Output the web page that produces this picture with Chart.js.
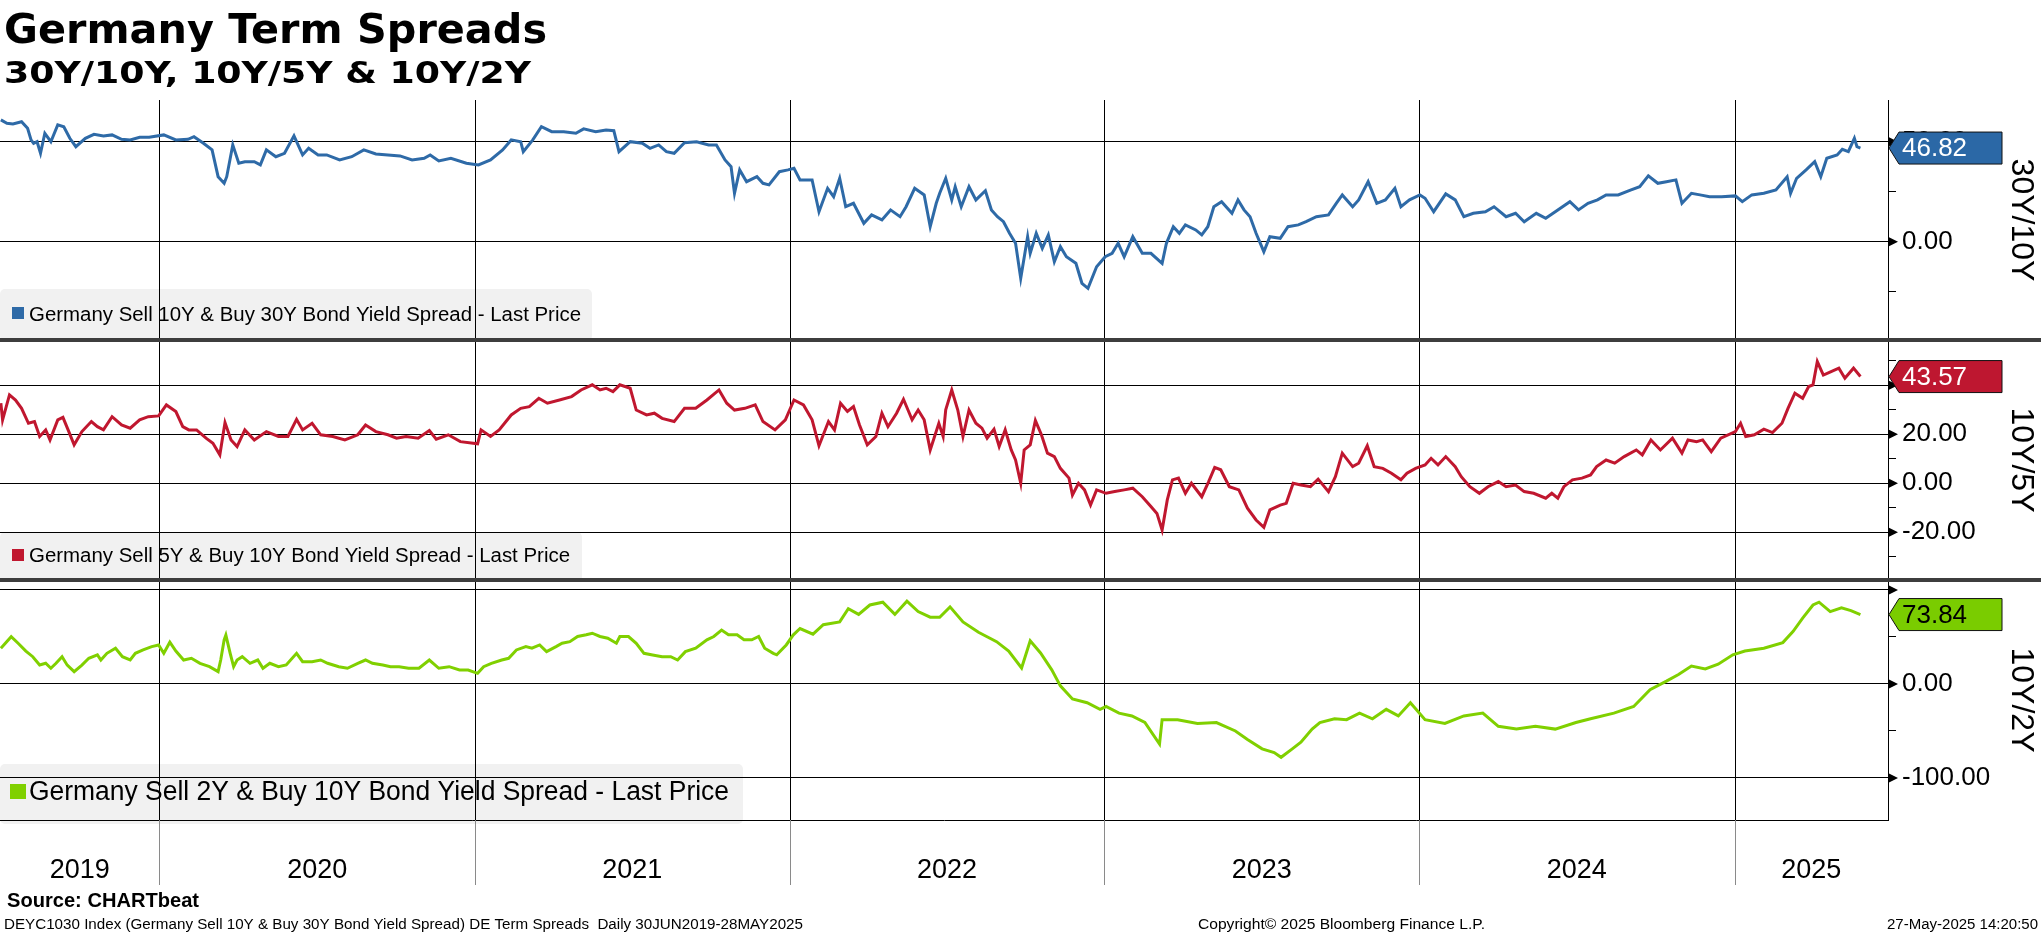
<!DOCTYPE html>
<html>
<head>
<meta charset="utf-8">
<title>Germany Term Spreads</title>
<script src="https://cdn.jsdelivr.net/npm/chart.js@4.4.1/dist/chart.umd.min.js"></script>
<style>
  html, body { margin: 0; padding: 0; background: #fff; }
  #chart { display: block; }
</style>
</head>
<body>
<canvas id="chart" width="2041" height="936"></canvas>
<script>
// --- data (bp) ---
const axisStart = '2019-06-30';
const axisEnd = '2025-06-28';
const yearLabels = ['2019', '2020', '2021', '2022', '2023', '2024', '2025'];
const panelTitles = ['30Y/10Y', '10Y/5Y', '10Y/2Y'];
const seriesNames = [
  'Germany Sell 10Y & Buy 30Y Bond Yield Spread - Last Price',
  'Germany Sell 5Y & Buy 10Y Bond Yield Spread - Last Price',
  'Germany Sell 2Y & Buy 10Y Bond Yield Spread - Last Price'
];
const seriesColors = ['#2e6aa7', '#c0172f', '#80d000'];
const badgeColors = ['#2b68a6', '#be1730', '#7acc00'];
const badgeText = ['#ffffff', '#ffffff', '#000000'];

// ticks per panel: major (grid line + arrow), minor (short tick), labelled
const p1Major = [50, 0], p1Minor = [25, -25], p1Labelled = [50, 0];
const p2Major = [40, 20, 0, -20], p2Minor = [50, 30, 10, -10, -30], p2Labelled = [40, 20, 0, -20];
const p3Major = [100, 0, -100], p3Minor = [50, -50], p3Labelled = [0, -100];

const spread30y10y = [
  ['2019-07-01', 60.9], ['2019-07-08', 59.2], ['2019-07-15', 58.9], ['2019-07-25', 60.0], ['2019-08-01', 56.7],
  ['2019-08-05', 50.9], ['2019-08-08', 49.2], ['2019-08-12', 50.0], ['2019-08-16', 44.2], ['2019-08-21', 54.2],
  ['2019-08-28', 50.0], ['2019-09-05', 58.4], ['2019-09-12', 57.5], ['2019-09-19', 51.7], ['2019-09-26', 47.5],
  ['2019-10-07', 51.7], ['2019-10-17', 53.7], ['2019-10-28', 52.9], ['2019-11-07', 53.4], ['2019-11-18', 51.2],
  ['2019-11-28', 50.9], ['2019-12-09', 52.2], ['2019-12-20', 52.2], ['2020-01-06', 53.4], ['2020-01-20', 50.9],
  ['2020-02-03', 51.2], ['2020-02-10', 52.5], ['2020-02-21', 49.2], ['2020-03-02', 45.9], ['2020-03-09', 32.5],
  ['2020-03-16', 29.2], ['2020-03-19', 32.5], ['2020-03-26', 48.4], ['2020-04-02', 39.2], ['2020-04-09', 40.0],
  ['2020-04-20', 40.0], ['2020-04-27', 38.4], ['2020-05-04', 45.9], ['2020-05-15', 42.5], ['2020-05-25', 44.2],
  ['2020-06-05', 52.9], ['2020-06-15', 43.4], ['2020-06-22', 46.7], ['2020-07-03', 43.4], ['2020-07-13', 43.4],
  ['2020-07-28', 40.9], ['2020-08-11', 42.5], ['2020-08-25', 45.9], ['2020-09-08', 43.9], ['2020-09-22', 43.4],
  ['2020-10-06', 42.9], ['2020-10-20', 40.9], ['2020-11-03', 41.7], ['2020-11-10', 43.4], ['2020-11-20', 40.4],
  ['2020-12-04', 41.7], ['2020-12-22', 39.2], ['2021-01-05', 38.4], ['2021-01-19', 40.9], ['2021-02-02', 45.9],
  ['2021-02-12', 50.9], ['2021-02-23', 50.0], ['2021-02-26', 45.0], ['2021-03-09', 50.9], ['2021-03-19', 57.5],
  ['2021-03-31', 55.0], ['2021-04-14', 55.0], ['2021-04-28', 54.2], ['2021-05-07', 56.4], ['2021-05-21', 55.0],
  ['2021-06-02', 55.9], ['2021-06-11', 55.5], ['2021-06-17', 45.0], ['2021-06-30', 50.0], ['2021-07-14', 49.2],
  ['2021-07-23', 46.7], ['2021-08-02', 48.4], ['2021-08-11', 45.0], ['2021-08-20', 44.2], ['2021-09-01', 49.5],
  ['2021-09-15', 50.0], ['2021-09-29', 48.4], ['2021-10-08', 48.4], ['2021-10-18', 40.9], ['2021-10-25', 37.5],
  ['2021-10-29', 24.2], ['2021-11-04', 35.9], ['2021-11-12', 30.0], ['2021-11-24', 32.5], ['2021-12-01', 29.2],
  ['2021-12-08', 28.4], ['2021-12-20', 35.0], ['2021-12-30', 35.9], ['2022-01-06', 36.7], ['2022-01-13', 30.9],
  ['2022-01-27', 30.9], ['2022-02-04', 15.0], ['2022-02-14', 26.7], ['2022-02-21', 22.5], ['2022-02-28', 31.7],
  ['2022-03-07', 17.5], ['2022-03-16', 19.2], ['2022-03-28', 9.2], ['2022-04-06', 13.4], ['2022-04-18', 10.9],
  ['2022-04-28', 15.9], ['2022-05-09', 12.5], ['2022-05-16', 17.5], ['2022-05-26', 26.7], ['2022-06-06', 23.4],
  ['2022-06-13', 7.5], ['2022-06-20', 19.2], ['2022-06-24', 24.2], ['2022-07-01', 31.7], ['2022-07-08', 20.9],
  ['2022-07-12', 27.5], ['2022-07-19', 17.5], ['2022-07-28', 27.5], ['2022-08-05', 20.9], ['2022-08-16', 25.5],
  ['2022-08-23', 15.9], ['2022-08-30', 12.5], ['2022-09-06', 10.0], ['2022-09-13', 4.2], ['2022-09-20', -0.8],
  ['2022-09-26', -18.3], ['2022-10-04', 2.5], ['2022-10-07', -5.8], ['2022-10-14', 4.2], ['2022-10-21', -3.3],
  ['2022-10-28', 3.4], ['2022-11-04', -10.0], ['2022-11-11', -2.5], ['2022-11-18', -7.5], ['2022-11-29', -10.8],
  ['2022-12-06', -20.8], ['2022-12-13', -23.3], ['2022-12-23', -12.5], ['2023-01-02', -7.5], ['2023-01-10', -5.8],
  ['2023-01-17', -0.8], ['2023-01-24', -7.5], ['2023-02-03', 2.5], ['2023-02-14', -5.8], ['2023-02-24', -5.8],
  ['2023-03-09', -10.8], ['2023-03-14', -0.8], ['2023-03-22', 7.5], ['2023-03-29', 4.2], ['2023-04-05', 8.4],
  ['2023-04-17', 5.9], ['2023-04-24', 3.4], ['2023-05-01', 7.5], ['2023-05-08', 17.5], ['2023-05-17', 20.0],
  ['2023-05-29', 14.2], ['2023-06-05', 20.9], ['2023-06-12', 15.9], ['2023-06-19', 12.5], ['2023-06-26', 4.2],
  ['2023-07-05', -5.0], ['2023-07-12', 2.5], ['2023-07-24', 1.7], ['2023-08-02', 7.5], ['2023-08-14', 8.4],
  ['2023-08-23', 10.0], ['2023-09-04', 12.5], ['2023-09-18', 13.4], ['2023-09-27', 19.2], ['2023-10-04', 23.4],
  ['2023-10-16', 17.5], ['2023-10-23', 20.9], ['2023-11-03', 30.0], ['2023-11-13', 19.2], ['2023-11-23', 20.9],
  ['2023-12-04', 26.7], ['2023-12-11', 17.5], ['2023-12-21', 20.9], ['2024-01-02', 23.4], ['2024-01-08', 21.7],
  ['2024-01-18', 15.0], ['2024-02-01', 23.9], ['2024-02-12', 20.9], ['2024-02-22', 12.5], ['2024-03-04', 14.2],
  ['2024-03-18', 15.0], ['2024-03-28', 17.5], ['2024-04-11', 12.5], ['2024-04-22', 14.2], ['2024-05-02', 10.0],
  ['2024-05-16', 14.2], ['2024-05-27', 11.7], ['2024-06-10', 15.9], ['2024-06-24', 20.0], ['2024-07-04', 15.9],
  ['2024-07-15', 19.2], ['2024-07-26', 20.9], ['2024-08-05', 23.4], ['2024-08-19', 23.4], ['2024-09-03', 25.9],
  ['2024-09-13', 27.5], ['2024-09-23', 32.9], ['2024-10-04', 29.2], ['2024-10-14', 30.0], ['2024-10-25', 30.9],
  ['2024-11-01', 19.2], ['2024-11-12', 24.2], ['2024-11-22', 23.4], ['2024-12-03', 22.5], ['2024-12-17', 22.5],
  ['2025-01-02', 22.9], ['2025-01-10', 20.0], ['2025-01-21', 23.4], ['2025-02-04', 24.2], ['2025-02-18', 25.9],
  ['2025-03-03', 32.5], ['2025-03-07', 24.2], ['2025-03-14', 31.7], ['2025-03-25', 35.9], ['2025-04-04', 40.0],
  ['2025-04-11', 32.5], ['2025-04-18', 41.7], ['2025-04-30', 43.4], ['2025-05-06', 46.2], ['2025-05-13', 45.0],
  ['2025-05-20', 51.7], ['2025-05-23', 47.5], ['2025-05-27', 46.82]
];

const spread10y5y = [
  ['2019-07-01', 32.7], ['2019-07-03', 25.9], ['2019-07-11', 36.1], ['2019-07-18', 34.0], ['2019-07-25', 30.6],
  ['2019-08-02', 24.5], ['2019-08-09', 25.2], ['2019-08-15', 19.1], ['2019-08-22', 21.8], ['2019-08-27', 17.7],
  ['2019-09-05', 25.9], ['2019-09-11', 26.9], ['2019-09-17', 21.8], ['2019-09-24', 15.7], ['2019-10-03', 21.1],
  ['2019-10-14', 25.2], ['2019-10-21', 23.1], ['2019-10-28', 21.8], ['2019-11-07', 27.2], ['2019-11-18', 23.8],
  ['2019-11-28', 22.5], ['2019-12-09', 25.9], ['2019-12-19', 27.2], ['2019-12-31', 27.5], ['2020-01-09', 32.0],
  ['2020-01-20', 29.3], ['2020-01-28', 23.1], ['2020-02-04', 21.8], ['2020-02-13', 21.8], ['2020-02-24', 18.4],
  ['2020-03-03', 16.3], ['2020-03-11', 11.6], ['2020-03-17', 24.8], ['2020-03-24', 17.7], ['2020-03-31', 15.0],
  ['2020-04-09', 21.8], ['2020-04-20', 17.7], ['2020-05-04', 21.1], ['2020-05-18', 19.1], ['2020-05-29', 19.1],
  ['2020-06-08', 26.1], ['2020-06-15', 21.8], ['2020-06-26', 24.5], ['2020-07-06', 19.8], ['2020-07-20', 19.1],
  ['2020-08-03', 17.7], ['2020-08-18', 19.8], ['2020-08-27', 23.8], ['2020-09-08', 21.1], ['2020-09-22', 19.8],
  ['2020-10-02', 18.4], ['2020-10-13', 19.1], ['2020-10-27', 18.4], ['2020-11-09', 21.5], ['2020-11-17', 18.0],
  ['2020-12-01', 19.8], ['2020-12-15', 17.0], ['2021-01-04', 16.1], ['2021-01-08', 21.8], ['2021-01-19', 19.1],
  ['2021-01-29', 21.8], ['2021-02-12', 27.9], ['2021-02-23', 30.6], ['2021-03-05', 31.3], ['2021-03-16', 34.7],
  ['2021-03-26', 32.7], ['2021-04-09', 34.0], ['2021-04-23', 35.4], ['2021-05-04', 38.1], ['2021-05-17', 40.2],
  ['2021-05-26', 38.1], ['2021-06-02', 38.8], ['2021-06-10', 37.4], ['2021-06-18', 40.2], ['2021-06-30', 38.8],
  ['2021-07-07', 29.9], ['2021-07-19', 27.9], ['2021-07-28', 28.6], ['2021-08-06', 26.5], ['2021-08-20', 25.2],
  ['2021-09-01', 30.6], ['2021-09-14', 30.6], ['2021-09-27', 34.0], ['2021-10-11', 38.1], ['2021-10-20', 32.7],
  ['2021-10-29', 29.9], ['2021-11-10', 30.6], ['2021-11-22', 32.0], ['2021-12-01', 25.2], ['2021-12-15', 21.8],
  ['2021-12-27', 25.9], ['2022-01-06', 34.0], ['2022-01-17', 32.0], ['2022-01-27', 25.9], ['2022-02-04', 15.3],
  ['2022-02-15', 25.2], ['2022-02-22', 21.8], ['2022-03-01', 32.7], ['2022-03-09', 29.3], ['2022-03-16', 31.3],
  ['2022-03-23', 23.8], ['2022-04-01', 15.7], ['2022-04-11', 19.1], ['2022-04-18', 28.6], ['2022-04-25', 23.1],
  ['2022-05-05', 28.6], ['2022-05-13', 34.3], ['2022-05-23', 25.9], ['2022-05-30', 29.9], ['2022-06-06', 25.9],
  ['2022-06-13', 13.6], ['2022-06-23', 24.5], ['2022-06-28', 19.1], ['2022-07-01', 30.0], ['2022-07-08', 38.1],
  ['2022-07-15', 29.9], ['2022-07-21', 19.1], ['2022-07-28', 29.9], ['2022-08-05', 24.5], ['2022-08-12', 22.5],
  ['2022-08-18', 18.4], ['2022-08-26', 22.1], ['2022-09-01', 15.0], ['2022-09-08', 21.8], ['2022-09-15', 13.6],
  ['2022-09-20', 9.5], ['2022-09-26', 0.0], ['2022-09-30', 13.6], ['2022-10-07', 15.7], ['2022-10-13', 25.6],
  ['2022-10-20', 19.8], ['2022-10-27', 12.3], ['2022-11-04', 10.9], ['2022-11-11', 6.1], ['2022-11-21', 2.1],
  ['2022-11-25', -4.8], ['2022-12-02', 0.0], ['2022-12-09', -2.7], ['2022-12-16', -8.9], ['2022-12-23', -2.7],
  ['2023-01-03', -4.1], ['2023-01-13', -3.4], ['2023-01-24', -2.7], ['2023-02-03', -2.0], ['2023-02-14', -5.5],
  ['2023-02-24', -9.5], ['2023-03-03', -12.3], ['2023-03-09', -19.1], ['2023-03-15', -6.8], ['2023-03-21', 1.4],
  ['2023-03-28', 2.1], ['2023-04-05', -4.1], ['2023-04-12', 0.0], ['2023-04-24', -5.5], ['2023-05-02', 0.7],
  ['2023-05-09', 6.5], ['2023-05-16', 5.5], ['2023-05-26', -1.4], ['2023-06-06', -2.7], ['2023-06-16', -10.2],
  ['2023-06-26', -15.0], ['2023-07-05', -18.0], ['2023-07-12', -10.9], ['2023-07-24', -8.9], ['2023-07-31', -8.2],
  ['2023-08-08', 0.0], ['2023-08-17', -0.7], ['2023-08-28', -1.4], ['2023-09-06', 1.7], ['2023-09-18', -3.4],
  ['2023-09-26', 2.7], ['2023-10-04', 12.3], ['2023-10-16', 6.8], ['2023-10-23', 8.2], ['2023-11-02', 15.3],
  ['2023-11-10', 6.8], ['2023-11-20', 6.1], ['2023-11-30', 4.1], ['2023-12-11', 1.4], ['2023-12-18', 4.1],
  ['2023-12-28', 6.1], ['2024-01-08', 7.5], ['2024-01-15', 10.2], ['2024-01-23', 7.5], ['2024-02-01', 10.9],
  ['2024-02-12', 6.8], ['2024-02-19', 2.7], ['2024-02-29', -1.4], ['2024-03-11', -4.1], ['2024-03-21', -1.4],
  ['2024-04-02', 0.7], ['2024-04-11', -1.4], ['2024-04-22', -0.7], ['2024-05-02', -3.4], ['2024-05-13', -4.1],
  ['2024-05-27', -6.1], ['2024-06-03', -4.1], ['2024-06-10', -6.1], ['2024-06-17', -1.4], ['2024-06-27', 1.4],
  ['2024-07-08', 2.1], ['2024-07-18', 3.4], ['2024-07-25', 6.8], ['2024-08-05', 9.5], ['2024-08-15', 8.2],
  ['2024-08-26', 10.9], ['2024-09-09', 13.6], ['2024-09-16', 11.6], ['2024-09-26', 17.7], ['2024-10-07', 13.6],
  ['2024-10-21', 18.4], ['2024-11-01', 12.3], ['2024-11-08', 17.7], ['2024-11-18', 17.0], ['2024-11-25', 17.7],
  ['2024-12-05', 12.9], ['2024-12-16', 18.4], ['2025-01-02', 21.1], ['2025-01-08', 24.5], ['2025-01-14', 19.1],
  ['2025-01-24', 19.8], ['2025-02-04', 22.1], ['2025-02-14', 20.7], ['2025-02-25', 24.5], ['2025-03-04', 30.6],
  ['2025-03-12', 36.8], ['2025-03-21', 34.7], ['2025-03-28', 39.5], ['2025-04-02', 40.2], ['2025-04-07', 49.7],
  ['2025-04-14', 44.2], ['2025-04-23', 45.6], ['2025-05-02', 47.0], ['2025-05-09', 42.9], ['2025-05-19', 47.0],
  ['2025-05-27', 43.57]
];

const spread10y2y = [
  ['2019-07-01', 38.0], ['2019-07-13', 50.3], ['2019-07-21', 43.3], ['2019-07-30', 35.0], ['2019-08-07', 29.0],
  ['2019-08-15', 20.2], ['2019-08-22', 22.0], ['2019-08-28', 16.7], ['2019-09-03', 22.0], ['2019-09-10', 29.0],
  ['2019-09-16', 20.0], ['2019-09-24', 13.1], ['2019-10-03', 20.0], ['2019-10-11', 27.3], ['2019-10-21', 31.0],
  ['2019-10-25', 25.5], ['2019-11-01', 32.6], ['2019-11-11', 38.0], ['2019-11-19', 29.0], ['2019-11-28', 25.5],
  ['2019-12-04', 32.6], ['2019-12-13', 36.2], ['2019-12-23', 39.7], ['2019-12-31', 41.5], ['2020-01-06', 32.6],
  ['2020-01-13', 44.4], ['2020-01-20', 35.0], ['2020-01-29', 25.5], ['2020-02-07', 27.3], ['2020-02-17', 22.0],
  ['2020-02-28', 18.4], ['2020-03-09', 13.1], ['2020-03-12', 25.5], ['2020-03-16', 46.8], ['2020-03-18', 52.0],
  ['2020-03-23', 32.6], ['2020-03-27', 18.4], ['2020-03-31', 25.5], ['2020-04-06', 29.0], ['2020-04-15', 22.0],
  ['2020-04-24', 25.5], ['2020-04-30', 16.7], ['2020-05-08', 22.0], ['2020-05-18', 18.4], ['2020-05-27', 20.2],
  ['2020-06-08', 32.6], ['2020-06-15', 23.7], ['2020-06-26', 23.7], ['2020-07-06', 25.5], ['2020-07-14', 22.0],
  ['2020-07-27', 18.4], ['2020-08-06', 16.7], ['2020-08-18', 22.0], ['2020-08-27', 25.5], ['2020-09-04', 22.0],
  ['2020-09-16', 20.2], ['2020-09-25', 18.4], ['2020-10-05', 18.4], ['2020-10-16', 16.7], ['2020-10-28', 16.7],
  ['2020-11-09', 25.5], ['2020-11-20', 16.7], ['2020-12-02', 18.4], ['2020-12-14', 14.9], ['2020-12-24', 14.9],
  ['2021-01-04', 11.3], ['2021-01-11', 18.4], ['2021-01-20', 22.0], ['2021-02-01', 25.5], ['2021-02-09', 27.3],
  ['2021-02-18', 36.2], ['2021-03-01', 39.7], ['2021-03-08', 38.0], ['2021-03-17', 41.5], ['2021-03-25', 34.4],
  ['2021-04-05', 39.7], ['2021-04-12', 43.3], ['2021-04-21', 45.0], ['2021-04-30', 50.5], ['2021-05-10', 52.3],
  ['2021-05-17', 54.0], ['2021-05-26', 50.5], ['2021-06-04', 48.6], ['2021-06-14', 43.3], ['2021-06-18', 50.5],
  ['2021-06-28', 50.5], ['2021-07-07', 43.3], ['2021-07-16', 32.6], ['2021-07-26', 30.8], ['2021-08-06', 29.0],
  ['2021-08-16', 29.0], ['2021-08-24', 25.5], ['2021-09-02', 34.4], ['2021-09-14', 38.0], ['2021-09-27', 47.0],
  ['2021-10-05', 50.5], ['2021-10-14', 57.4], ['2021-10-22', 52.3], ['2021-11-01', 52.3], ['2021-11-09', 47.0],
  ['2021-11-18', 47.0], ['2021-11-26', 50.5], ['2021-12-03', 38.0], ['2021-12-13', 32.6], ['2021-12-17', 31.0],
  ['2021-12-28', 41.5], ['2022-01-05', 52.0], ['2022-01-13', 59.0], ['2022-01-28', 53.0], ['2022-02-09', 63.0],
  ['2022-02-28', 66.0], ['2022-03-10', 80.0], ['2022-03-22', 74.0], ['2022-04-04', 84.0], ['2022-04-19', 87.0],
  ['2022-05-03', 74.0], ['2022-05-17', 88.0], ['2022-05-30', 77.0], ['2022-06-13', 71.0], ['2022-06-24', 71.0],
  ['2022-07-06', 82.0], ['2022-07-21', 66.0], ['2022-08-08', 55.0], ['2022-08-29', 45.0], ['2022-09-12', 35.0],
  ['2022-09-27', 17.0], ['2022-10-07', 46.0], ['2022-10-19', 33.0], ['2022-11-01', 15.0], ['2022-11-11', -2.0],
  ['2022-11-25', -16.0], ['2022-12-12', -20.0], ['2022-12-27', -27.0], ['2023-01-03', -24.0], ['2023-01-18', -31.0],
  ['2023-02-02', -34.0], ['2023-02-17', -41.0], ['2023-03-06', -64.0], ['2023-03-09', -38.0], ['2023-03-27', -38.0],
  ['2023-04-19', -42.0], ['2023-05-11', -41.0], ['2023-06-02', -50.0], ['2023-06-16', -59.0], ['2023-07-03', -69.0],
  ['2023-07-17', -73.0], ['2023-07-25', -78.0], ['2023-08-07', -69.0], ['2023-08-17', -62.0], ['2023-08-30', -48.0],
  ['2023-09-08', -41.0], ['2023-09-25', -37.0], ['2023-10-09', -38.0], ['2023-10-24', -31.0], ['2023-11-08', -37.0],
  ['2023-11-24', -27.0], ['2023-12-08', -34.0], ['2023-12-22', -20.0], ['2024-01-08', -38.0], ['2024-01-31', -42.0],
  ['2024-02-22', -34.0], ['2024-03-15', -31.0], ['2024-04-02', -45.0], ['2024-04-23', -48.0], ['2024-05-15', -45.0],
  ['2024-06-07', -48.0], ['2024-07-01', -41.0], ['2024-07-18', -37.0], ['2024-08-14', -31.0], ['2024-09-06', -24.0],
  ['2024-09-25', -6.0], ['2024-10-14', 3.0], ['2024-10-28', 10.0], ['2024-11-12', 19.0], ['2024-11-28', 16.0],
  ['2024-12-13', 21.0], ['2024-12-30', 31.0], ['2025-01-13', 35.0], ['2025-02-04', 38.0], ['2025-02-26', 44.0],
  ['2025-03-10', 56.0], ['2025-03-21', 70.0], ['2025-04-02', 84.0], ['2025-04-09', 87.0], ['2025-04-22', 77.0],
  ['2025-05-05', 81.0], ['2025-05-16', 78.0], ['2025-05-27', 73.84]
];

const seriesRows = [spread30y10y, spread10y5y, spread10y2y];
const toPoints = rows => rows.map(([d, v]) => ({ x: Date.parse(d), y: v }));

const FONT = "'Liberation Sans', Arial, sans-serif";

// draw a text and squeeze/stretch it to a measured width
function fitText(ctx, text, x, y, font, width, color, align) {
  ctx.save();
  ctx.font = font;
  ctx.fillStyle = color || '#000';
  ctx.textBaseline = 'alphabetic';
  ctx.textAlign = 'left';
  const w = ctx.measureText(text).width;
  const sx = width ? width / w : 1;
  const left = align === 'right' ? x - w * sx : x;
  ctx.translate(left, y);
  ctx.scale(sx, 1);
  ctx.fillText(text, 0, 0);
  ctx.restore();
}

function yAxis(min, max, major, minor, labelled) {
  return {
    type: 'linear',
    position: 'right',
    stack: 'panels',
    stackWeight: 1,
    min: min,
    max: max,
    afterBuildTicks: s => { s.ticks = major.concat(minor).map(v => ({ value: v })); },
    afterFit: s => { s.width = 153; },
    border: { display: true, color: '#000', width: 1 },
    grid: {
      color: ctx => (ctx.tick && major.includes(ctx.tick.value)) ? '#000' : 'rgba(0,0,0,0)',
      lineWidth: 1,
      drawTicks: true,
      tickLength: 8,
      tickColor: ctx => (ctx.tick && minor.includes(ctx.tick.value)) ? '#000' : 'rgba(0,0,0,0)'
    },
    ticks: {
      autoSkip: false,
      padding: 6,
      color: '#000',
      font: { family: FONT, size: 26 },
      callback: v => labelled.includes(v) ? v.toFixed(2) : ''
    }
  };
}

const decor = {
  id: 'decor',
  beforeDraw(chart) {
    const ctx = chart.ctx;
    // titles
    fitText(ctx, 'Germany Term Spreads', 4, 43, "bold 41px 'DejaVu Sans'", 543);
    fitText(ctx, '30Y/10Y, 10Y/5Y & 10Y/2Y', 4, 83, "bold 31px 'DejaVu Sans'", 527);
    // footer
    fitText(ctx, 'Source: CHARTbeat', 7, 907, 'bold 20px ' + FONT, 192);
    fitText(ctx, 'DEYC1030 Index (Germany Sell 10Y & Buy 30Y Bond Yield Spread) DE Term Spreads  Daily 30JUN2019-28MAY2025',
      4, 929, '14px ' + FONT, 799);
    fitText(ctx, 'Copyright\u00A9 2025 Bloomberg Finance L.P.', 1198, 929, '14px ' + FONT, 287);
    fitText(ctx, '27-May-2025 14:20:50', 2038, 929, '14px ' + FONT, 151, '#000', 'right');

    // legend boxes (under the grid, like the terminal)
    const boxes = [
      { x: 0, y: 289, w: 592, h: 52, sq: [12, 307, 12, 12], tx: 29, ty: 321, font: '20px ' + FONT, tw: 552 },
      { x: 0, y: 532, w: 582, h: 50, sq: [12, 549, 12, 12], tx: 29, ty: 562, font: '20px ' + FONT, tw: 541 },
      { x: 0, y: 764, w: 743, h: 60, sq: [10, 784, 16, 15], tx: 29, ty: 800, font: '27px ' + FONT, tw: 700 }
    ];
    boxes.forEach((b, i) => {
      ctx.save();
      ctx.fillStyle = '#f1f1f1';
      ctx.beginPath();
      ctx.roundRect(b.x, b.y, b.w, b.h, 5);
      ctx.fill();
      ctx.fillStyle = seriesColors[i];
      ctx.fillRect(b.sq[0], b.sq[1], b.sq[2], b.sq[3]);
      ctx.restore();
      fitText(ctx, seriesNames[i], b.tx, b.ty, b.font, b.tw);
    });
  },
  beforeDatasetsDraw(chart) {
    const ctx = chart.ctx;
    const xs = chart.scales.x;
    const area = chart.chartArea;
    ctx.save();
    ctx.lineWidth = 1;
    for (let y = 2020; y <= 2025; y++) {
      const px = Math.round(xs.getPixelForValue(Date.UTC(y, 0, 1))) + 0.5;
      ctx.strokeStyle = '#000';
      ctx.beginPath();
      ctx.moveTo(px, area.top);
      ctx.lineTo(px, area.bottom);
      ctx.stroke();
      ctx.strokeStyle = '#8a8a8a';
      ctx.beginPath();
      ctx.moveTo(px, area.bottom);
      ctx.lineTo(px, area.bottom + 65);
      ctx.stroke();
    }
    ctx.restore();
  },
  afterDraw(chart) {
    const ctx = chart.ctx;
    const area = chart.chartArea;
    const ids = ['y1', 'y2', 'y3'];
    const majors = [p1Major, p2Major, p3Major];
    ctx.save();
    // panel separators
    ctx.fillStyle = '#3d3d3d';
    ctx.fillRect(0, chart.scales.y1.bottom - 2, chart.width, 4);
    ctx.fillRect(0, chart.scales.y2.bottom - 2, chart.width, 4);

    ids.forEach((id, i) => {
      const s = chart.scales[id];
      // major tick arrows
      ctx.fillStyle = '#000';
      majors[i].forEach(v => {
        const py = s.getPixelForValue(v);
        ctx.beginPath();
        ctx.moveTo(area.right, py - 5);
        ctx.lineTo(area.right + 10, py);
        ctx.lineTo(area.right, py + 5);
        ctx.closePath();
        ctx.fill();
      });
      // last value badge
      const rows = seriesRows[i];
      const last = rows[rows.length - 1][1];
      const py = s.getPixelForValue(last);
      const x0 = area.right + 1;
      ctx.beginPath();
      ctx.moveTo(x0, py);
      ctx.lineTo(x0 + 10, py - 16);
      ctx.lineTo(x0 + 113, py - 16);
      ctx.lineTo(x0 + 113, py + 16);
      ctx.lineTo(x0 + 10, py + 16);
      ctx.closePath();
      ctx.fillStyle = badgeColors[i];
      ctx.fill();
      ctx.strokeStyle = '#111';
      ctx.lineWidth = 1;
      ctx.stroke();
      ctx.fillStyle = badgeText[i];
      ctx.font = '26px ' + FONT;
      ctx.textBaseline = 'middle';
      ctx.textAlign = 'left';
      ctx.fillText(last.toFixed(2), x0 + 13, py + 1);
      // rotated panel title
      ctx.save();
      ctx.translate(2021, (s.top + s.bottom) / 2);
      ctx.rotate(Math.PI / 2);
      ctx.fillStyle = '#000';
      ctx.font = '32px ' + FONT;
      ctx.textAlign = 'center';
      ctx.textBaseline = 'middle';
      ctx.fillText(panelTitles[i], 0, 0);
      ctx.restore();
    });
    ctx.restore();
  }
};

const xMin = Date.parse(axisStart);
const xMax = Date.parse(axisEnd);

new Chart(document.getElementById('chart'), {
  type: 'line',
  data: {
    datasets: seriesRows.map((rows, i) => ({
      label: seriesNames[i],
      data: toPoints(rows),
      yAxisID: 'y' + (i + 1),
      borderColor: seriesColors[i],
      borderWidth: 3,
      pointRadius: 0,
      tension: 0,
      fill: false
    }))
  },
  options: {
    responsive: false,
    animation: false,
    devicePixelRatio: 1,
    events: [],
    layout: { padding: { top: 100, left: 0, right: 0, bottom: 0 } },
    plugins: { legend: { display: false }, tooltip: { enabled: false }, title: { display: false } },
    scales: {
      x: {
        type: 'linear',
        position: 'bottom',
        min: xMin,
        max: xMax,
        afterBuildTicks: s => {
          s.ticks = yearLabels.map(lbl => {
            const y = Number(lbl);
            const a = Math.max(Date.UTC(y, 0, 1), xMin);
            const b = Math.min(Date.UTC(y + 1, 0, 1), xMax);
            return { value: (a + b) / 2 };
          });
        },
        afterFit: s => { s.height = 116; },
        grid: { display: false, drawTicks: false },
        border: { display: true, color: '#000', width: 1 },
        ticks: {
          autoSkip: false,
          maxRotation: 0,
          padding: 34,
          color: '#000',
          font: { family: FONT, size: 27 },
          callback: (v, i) => yearLabels[i]
        }
      },
      y1: yAxis(-49.15, 70.85, p1Major, p1Minor, p1Labelled),
      y2: yAxis(-39.5, 58.5, p2Major, p2Minor, p2Labelled),
      y3: yAxis(-144.7, 110.6, p3Major, p3Minor, p3Labelled)
    }
  },
  plugins: [decor]
});
</script>
</body>
</html>
